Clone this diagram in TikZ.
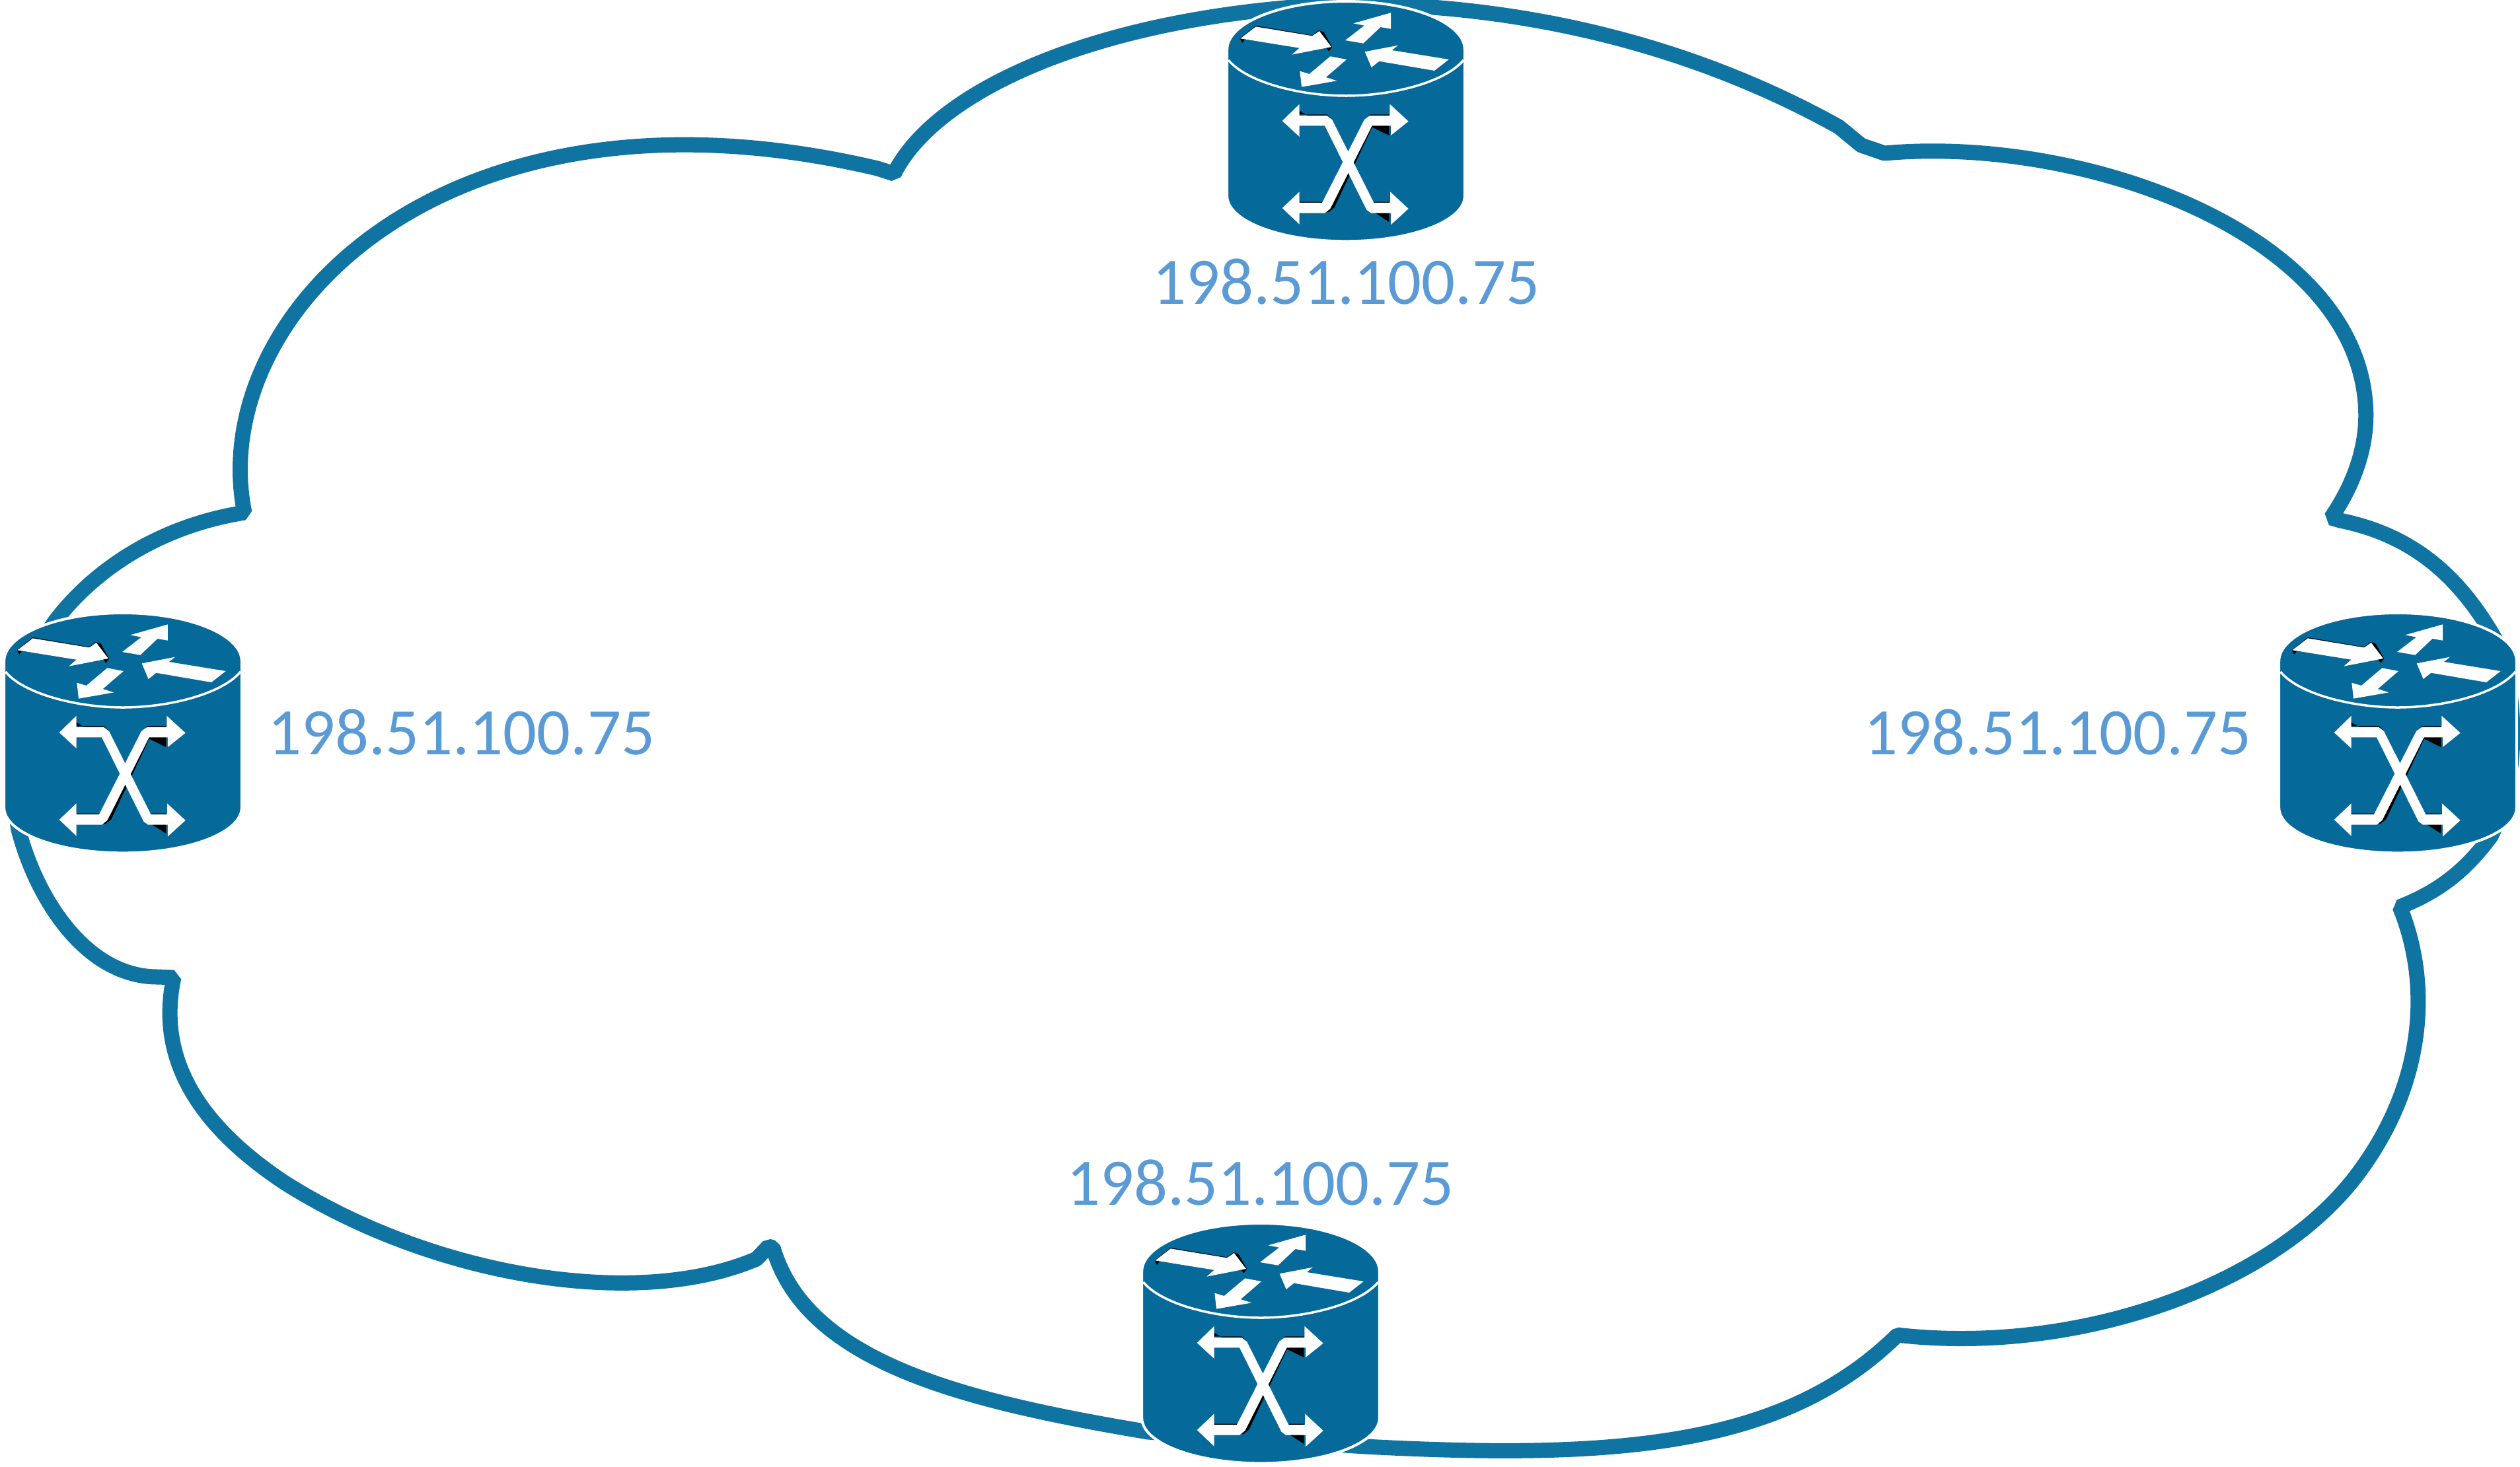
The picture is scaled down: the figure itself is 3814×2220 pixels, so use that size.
\documentclass[tikz,border=0pt]{standalone}
\usepackage{fontspec}
\setmainfont{Carlito}
\usepackage{xcolor}
\definecolor{routerblue}{HTML}{05699A}
\definecolor{cloudblue}{HTML}{1074A2}
\definecolor{addrblue}{HTML}{5B9BD5}

\begin{document}
\begin{tikzpicture}[x=.01cm,y=-.01cm,
  every node/.style={font=\fontsize{28.6}{34}\selectfont,text=addrblue,inner sep=0pt},
  cloudline/.style={draw=cloudblue,line width=.23cm,line join=bevel},
  routerhalo/.style={draw=white,line width=.04cm,fill=routerblue},
  routerring/.style={draw=white,line width=.035cm},
  arrowwhite/.style={fill=white},
  arrowblack/.style={fill=black}]
\useasboundingbox (0,0) rectangle (3814,2220);
% cloud
\draw[cloudline] (1353,263) .. controls (1420,130) and (1680,20) .. (2037,6)
  .. controls (2350,6) and (2600,90) .. (2783,192) -- (2817,220) -- (2852,232)
  .. controls (3150,205) and (3560,350) .. (3580,610)
  .. controls (3585,670) and (3565,730) .. (3528,784) -- (3542,788)
  .. controls (3650,810) and (3720,870) .. (3775,965)
  .. controls (3813,1050) and (3813,1180) .. (3770,1266)
  .. controls (3730,1320) and (3690,1350) .. (3632,1373)
  .. controls (3680,1490) and (3670,1640) .. (3570,1775)
  .. controls (3445,1945) and (3150,2050) .. (2880,2022) -- (2872,2021)
  .. controls (2700,2190) and (2450,2210) .. (2066,2190)
  -- (1738,2168) .. controls (1450,2120) and (1220,2060) .. (1170,1889) -- (1163,1887) -- (1145,1906)
  .. controls (960,1985) and (650,1930) .. (430,1790)
  .. controls (310,1710) and (235,1610) .. (263,1480) -- (240,1479)
  .. controls (130,1480) and (55,1360) .. (28,1256)
  .. controls (10,1150) and (30,1010) .. (86,937)
  .. controls (150,855) and (250,795) .. (370,776)
  .. controls (310,480) and (670,100) .. (1328,255) -- cycle;
% routers
\foreach \cx/\cy in {2037/75,186/1001,3629/1001,1908/1925}{
\begin{scope}[shift={(\cx,\cy)},scale=.3333,shift={(-711,-222)}]
\draw[routerhalo] (171.5,222) -- (171.5,887) arc[start angle=180,end angle=0,x radius=539.5,y radius=206]
  -- (1250.5,222) arc[start angle=0,end angle=-180,x radius=539.5,y radius=219] -- cycle;
\draw[routerring] (178,270) .. controls (260,370) and (500,432) .. (711,432) .. controls (922,432) and (1162,370) .. (1245,270);
% arrows on the lid
\fill[arrowblack] (230,172)--(240,192)--(252,176)--(500,212)--(622,214)--(634,230)--(648,210)--(610,142)--(588,135)--(558,157)--(302,114)--cycle;
\fill[arrowwhite] (232,172)--(302,118)--(558,160)--(590,138)--(645,210)--(466,245)--(500,215)--cycle;
\fill[arrowwhite] (708,180)--(795,113)--(745,103)--(915,55)--(915,128)--(868,120)--(790,194)--cycle;
\fill[arrowwhite] (797,232)--(948,203)--(920,225)--(1178,267)--(1113,318)--(862,275)--(827,303)--cycle;
\fill[arrowwhite] (640,253)--(714,267)--(620,348)--(670,364)--(510,392)--(502,320)--(545,333)--cycle;
% crossing arrows on the side
\fill[arrowblack] (835,565)--(658,940)--(630,962)--(610,950)--(800,560)--cycle;
\fill[arrowblack] (500,470)--(495,517)--(625,517)--(648,540)--(615,568)--(500,500)--cycle;
\fill[arrowblack] (820,517)--(907,517)--(907,468)--(907,612)--(800,560)--cycle;
\fill[arrowblack] (500,868)--(500,914)--(603,914)--(603,930)--(490,930)--cycle;
\fill[arrowblack] (838,914)--(907,914)--(907,868)--(907,1005)--(838,960)--cycle;
\fill[arrowwhite] (422,546)--(500,470)--(500,522)--(625,522)--(648,540)--(838,918)--(912,918)--(912,868)--(995,945)--(915,1018)--(915,965)--(825,965)--(805,950)--(615,568)--(500,568)--(500,618)--cycle;
\fill[arrowwhite] (995,548)--(915,612)--(915,568)--(830,568)--(640,945)--(615,965)--(500,965)--(500,1016)--(422,942)--(500,868)--(500,918)--(603,918)--(795,540)--(820,522)--(910,522)--(910,470)--cycle;
\end{scope}
}
% addresses
\node (addrtop) at (2037,427) {198.51.100.75};
\node (addrleft) at (698,1109) {198.51.100.75};
\node (addrright) at (3114,1109) {198.51.100.75};
\node (addrbottom) at (1907,1791) {198.51.100.75};
\end{tikzpicture}
\end{document}
